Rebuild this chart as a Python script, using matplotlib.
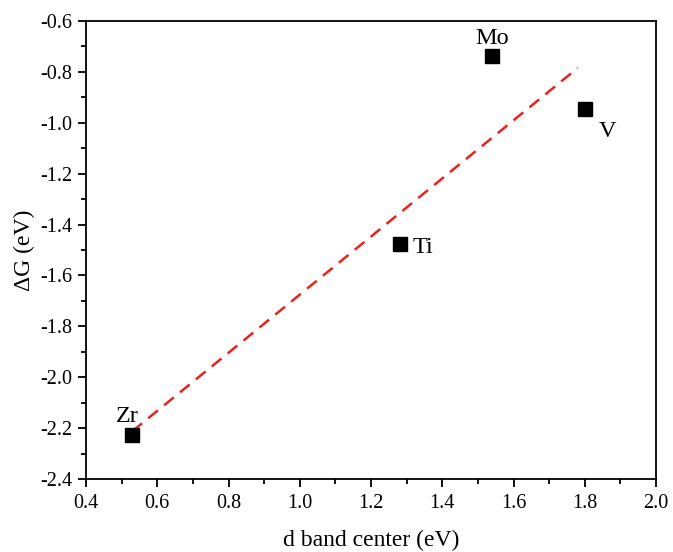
import numpy as np
import matplotlib
matplotlib.use("Agg")
from matplotlib import pyplot as plt
from matplotlib.ticker import MultipleLocator, FormatStrFormatter

metals = ["Zr", "Ti", "Mo", "V"]
d_band = [0.53, 1.28, 1.54, 1.80]
delta_g = [-2.228, -1.477, -0.738, -0.945]

# linear fit of dG vs d band center
slope, intercept = np.polyfit(d_band, delta_g, 1)
fit_x = np.array([min(d_band), 1.78])
fit_y = slope * fit_x + intercept

plt.rcParams['font.family'] = ['Liberation Serif', 'DejaVu Serif']
plt.rcParams['axes.unicode_minus'] = False

fig = plt.figure(figsize=(6.73, 5.52), dpi=100)
ax = fig.add_axes([0.1278, 0.1322, 0.847, 0.8297])

ax.plot(fit_x, fit_y, color="#e8221f", lw=1.8, dashes=(5, 3.2))
ax.plot(d_band, delta_g, "s", color="black", markersize=9.8, linestyle="none")

# label offsets in points, (dx, dy, ha)
offsets = {"Zr": (-3.6, 9.6, "center"), "Ti": (9.6, -6.7, "left"),
           "Mo": (0, 8.6, "center"), "V": (10, -20.5, "left")}
for name, x, y in zip(metals, d_band, delta_g):
    dx, dy, ha = offsets[name]
    ax.annotate(name, (x, y), xytext=(dx, dy), textcoords="offset points",
                ha=ha, va="baseline", fontsize=17.5)

ax.set_xlim(0.4, 2.0)
ax.set_ylim(-2.4, -0.6)
ax.xaxis.set_major_locator(MultipleLocator(0.2))
ax.xaxis.set_minor_locator(MultipleLocator(0.1))
ax.yaxis.set_major_locator(MultipleLocator(0.2))
ax.yaxis.set_minor_locator(MultipleLocator(0.1))
ax.tick_params(which="major", direction="out", length=5.8, width=1.3, labelsize=14.5)
ax.tick_params(axis="x", which="major", pad=5)
ax.tick_params(axis="y", which="major", pad=4)
ax.tick_params(which="minor", direction="out", length=3.4, width=1.3)
ax.xaxis.set_major_formatter(FormatStrFormatter("%.1f"))
ax.yaxis.set_major_formatter(FormatStrFormatter("%.1f"))
for s in ax.spines.values():
    s.set_linewidth(1.3)

ax.set_xlabel("d band center (eV)", fontsize=17, labelpad=12)
ax.set_ylabel("\u0394G (eV)", fontsize=17, labelpad=4)

fig.savefig("out.png", dpi=100)
